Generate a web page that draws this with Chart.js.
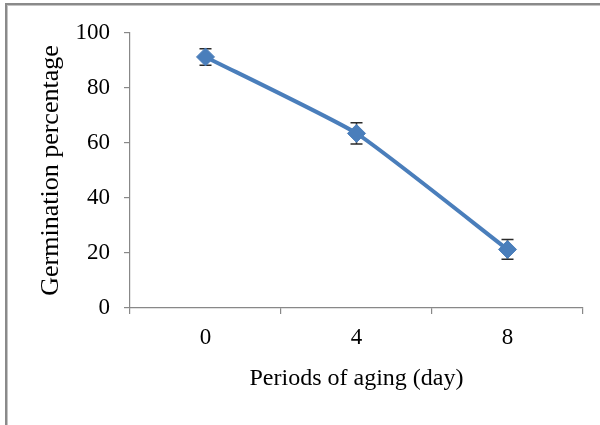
<!DOCTYPE html>
<html>
<head>
<meta charset="utf-8">
<script src="https://cdn.jsdelivr.net/npm/chart.js@4/dist/chart.umd.min.js"></script>
<style>
html,body{margin:0;padding:0;background:#fff;}
#wrap{width:600px;height:425px;position:relative;}
</style>
</head>
<body>
<div id="wrap"><canvas id="c" width="600" height="425"></canvas></div>
<script>
const categories = ['0', '4', '8'];
const germination = [91.3, 63.5, 21.3];
const errors = [3.0, 3.9, 3.6];
const yTicks = [0, 20, 40, 60, 80, 100];
const xTitle = 'Periods of aging (day)';
const yTitle = 'Germination percentage';

const frame = {
  id: 'frame',
  beforeDraw(chart) {
    const ctx = chart.ctx;
    ctx.save();
    ctx.fillStyle = '#fff';
    ctx.fillRect(0, 0, chart.width, chart.height);
    ctx.fillStyle = '#8a8a8a';
    ctx.fillRect(5, 3, chart.width - 5, 2);
    ctx.fillRect(5, 3, 2, chart.height - 3);
    ctx.fillStyle = '#c4c4c4';
    ctx.fillRect(7, 5, chart.width - 7, 1);
    ctx.fillRect(7, 5, 1, chart.height - 5);
    ctx.restore();
  }
};

const errorBars = {
  id: 'errorBars',
  beforeDatasetsDraw(chart) {
    const ctx = chart.ctx;
    const meta = chart.getDatasetMeta(0);
    const ys = chart.scales.y;
    ctx.save();
    ctx.strokeStyle = '#2b2b2b';
    ctx.lineWidth = 1.5;
    meta.data.forEach((pt, i) => {
      const v = germination[i], e = errors[i];
      const yt = ys.getPixelForValue(v + e);
      const yb = ys.getPixelForValue(v - e);
      const x = pt.x;
      ctx.beginPath();
      ctx.moveTo(x, yt); ctx.lineTo(x, yb);
      ctx.moveTo(x - 6, yt); ctx.lineTo(x + 6, yt);
      ctx.moveTo(x - 6, yb); ctx.lineTo(x + 6, yb);
      ctx.stroke();
    });
    ctx.restore();
  }
};

new Chart(document.getElementById('c'), {
  type: 'line',
  data: {
    labels: categories,
    datasets: [{
      data: germination,
      borderColor: '#4a7ebb',
      backgroundColor: '#4a7ebb',
      borderWidth: 4,
      pointStyle: 'rectRot',
      pointRadius: 9,
      pointBorderWidth: 1,
      pointBackgroundColor: '#4a7ebb',
      pointBorderColor: '#4a7ebb',
      tension: 0.15,
      fill: false
    }]
  },
  options: {
    responsive: false,
    animation: false,
    events: [],
    layout: { padding: { left: 0, top: 33, right: 17, bottom: 0 } },
    plugins: { legend: { display: false }, tooltip: { enabled: false } },
    scales: {
      x: {
        type: 'category',
        offset: true,
        grid: { offset: true, drawOnChartArea: false, drawTicks: true, tickLength: 6, color: '#888', lineWidth: 1.2 },
        border: { display: true, color: '#888', width: 1.2 },
        ticks: { color: '#000', font: { family: 'Liberation Serif', size: 23 }, padding: 10 },
        title: { display: true, text: xTitle, color: '#000', font: { family: 'Liberation Serif', size: 24 }, padding: { top: 0, bottom: 32 } },
        afterFit(s) { s.height = 117; }
      },
      y: {
        min: 0, max: 100,
        afterBuildTicks(s) { s.ticks = yTicks.map(v => ({ value: v })); },
        grid: { drawOnChartArea: false, drawTicks: true, tickLength: 6, color: '#888', lineWidth: 1.2 },
        border: { display: true, color: '#888', width: 1.2 },
        ticks: { color: '#000', font: { family: 'Liberation Serif', size: 23 }, padding: 14 },
        title: { display: true, text: yTitle, color: '#000', font: { family: 'Liberation Serif', size: 26 }, padding: { top: 36, bottom: 0 } },
        afterFit(s) { s.width = 130; }
      }
    }
  },
  plugins: [frame, errorBars]
});
</script>
</body>
</html>
